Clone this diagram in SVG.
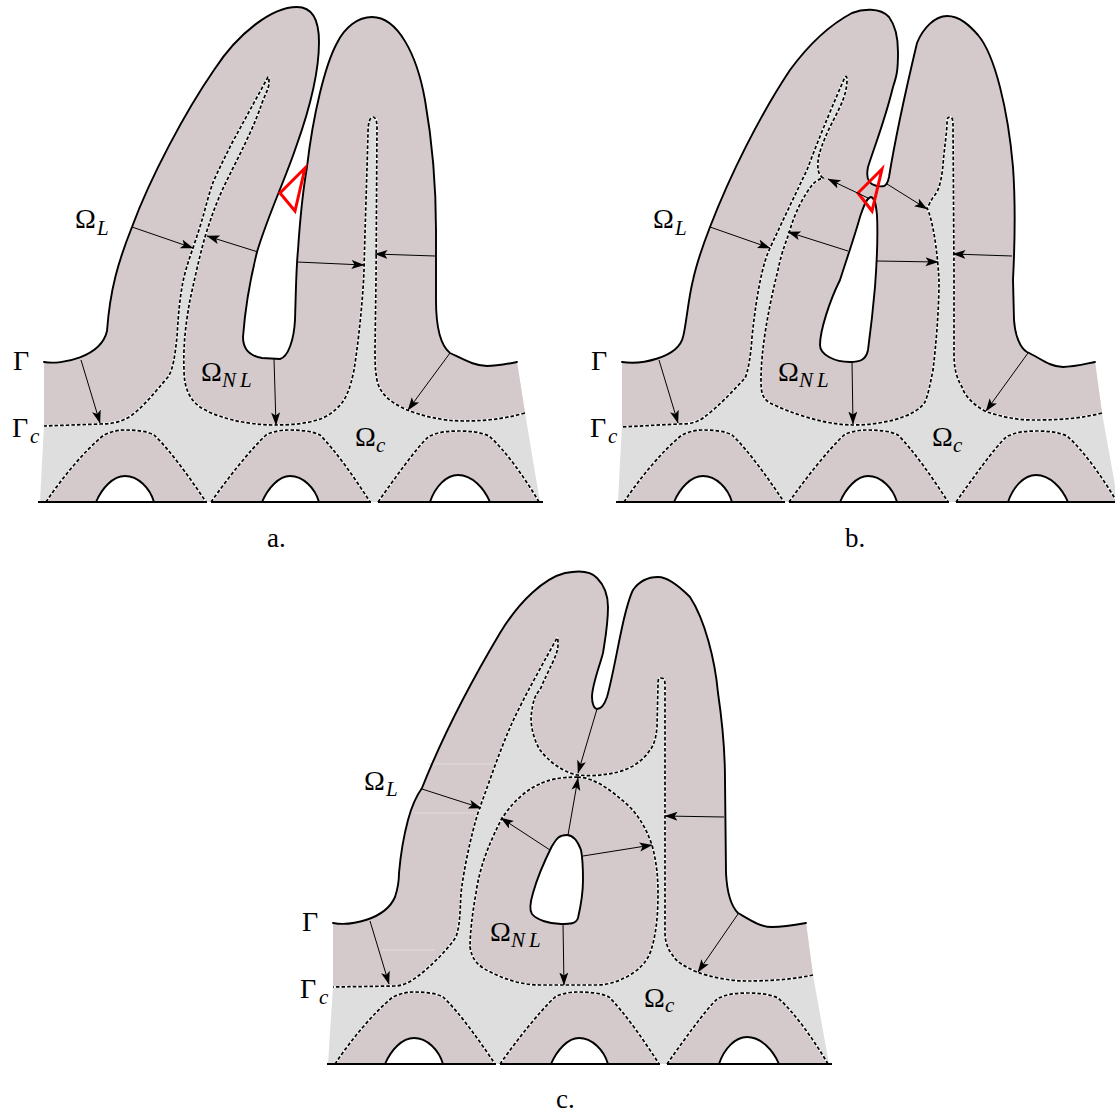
<svg xmlns="http://www.w3.org/2000/svg" xmlns:xlink="http://www.w3.org/1999/xlink" width="1115" height="1115" viewBox="0 0 1115 1115">
<style>
.grey{fill:#dedede;stroke:none}
.brown{fill:#d5cacb;stroke:none}
.out{fill:none;stroke:#000;stroke-width:1.9;stroke-linecap:round;stroke-linejoin:round}
.hole{fill:#fff;stroke:#000;stroke-width:1.9;stroke-linejoin:round}
.dw{fill:none;stroke:#fff;stroke-width:2.2}
.d{fill:none;stroke:#000;stroke-width:1.7;stroke-dasharray:3.6 2}
.base{fill:none;stroke:#000;stroke-width:2.2}
.arr{fill:none;stroke:#000;stroke-width:1;marker-end:url(#head)}
.red{fill:none;stroke:#f00;stroke-width:3;stroke-linejoin:miter}
.pale{fill:none;stroke:#e3dcdd;stroke-width:1}
text{font-family:"Liberation Serif","Times New Roman",serif;fill:#000}
.m{font-size:28px}
.s{font-size:21px;font-style:italic}
.nl{font-size:21px;font-style:italic;letter-spacing:4px}
.l{font-size:27px}
</style>
<defs>
<marker id="head" markerUnits="userSpaceOnUse" markerWidth="14" markerHeight="10" refX="12.5" refY="4.5" orient="auto" viewBox="0 0 14 10">
<path d="M13 4.5 L0 0 L3 4.5 L0 9 Z" fill="#000"/>
</marker>
<g id="teeth">
<path class="brown" d="M46 502 C62 478 85 450 104 435 C112 431 120 430 125 430 C135 430 147 431 154 435 C170 450 190 478 206 502 Z"/>
<path class="brown" d="M211 502 C228 478 250 450 266 435 C274 431 282 430 289 430 C300 430 312 431 320 435 C335 450 355 478 370 502 Z"/>
<path class="brown" d="M378 502 C395 478 415 450 428 437 C437 432 448 431 459 431 C470 431 480 432 489 436 C505 450 525 478 539 502 Z"/>
<path class="dw" d="M46 502 C62 478 85 450 104 435 C112 431 120 430 125 430 C135 430 147 431 154 435 C170 450 190 478 206 502"/>
<path class="dw" d="M211 502 C228 478 250 450 266 435 C274 431 282 430 289 430 C300 430 312 431 320 435 C335 450 355 478 370 502"/>
<path class="dw" d="M378 502 C395 478 415 450 428 437 C437 432 448 431 459 431 C470 431 480 432 489 436 C505 450 525 478 539 502"/>
<path class="d" d="M46 502 C62 478 85 450 104 435 C112 431 120 430 125 430 C135 430 147 431 154 435 C170 450 190 478 206 502"/>
<path class="d" d="M211 502 C228 478 250 450 266 435 C274 431 282 430 289 430 C300 430 312 431 320 435 C335 450 355 478 370 502"/>
<path class="d" d="M378 502 C395 478 415 450 428 437 C437 432 448 431 459 431 C470 431 480 432 489 436 C505 450 525 478 539 502"/>
<path class="hole" d="M96 502 C102 488 113 476 125 476 C138 476 150 488 154 502 Z"/>
<path class="hole" d="M262 502 C268 488 279 476 290 476 C303 476 315 488 319 502 Z"/>
<path class="hole" d="M430 502 C435 487 446 475 458 475 C472 475 484 488 490 502 Z"/>
<path class="base" d="M38 502 H207 M211 502 H371 M378 502 H543"/>
</g>
</defs>

<g id="panel-a">
<path class="grey" d="M44 362 C62 365 101 357 107 331 C110 290 118 262 132 227 C150 178 185 112 214 70 C238 33 272 7 297 7 C312 7 319 20 319 42 C319 80 305 122 296 147 C285 180 268 215 257 252 C250 280 245 310 243 337 C243 350 250 356 262 358 L280 359 C288 357 294 340 295 320 C296 290 296 270 298 250 C300 220 303 190 307 167 C313 115 325 65 337 43 C345 27 358 17 372 17 C398 17 417 55 425 100 C432 140 436 180 436 230 L436 300 C436 325 440 345 450 353 C465 360 475 366 487 366 C497 366 507 364 517 362 L525 413 L540 502 L40 502 L44 424 Z"/>
<path class="brown" d="M44 362 C62 365 101 357 107 331 C110 290 118 262 132 227 C150 178 185 112 214 70 C238 33 272 7 297 7 C312 7 319 20 319 42 C319 80 305 122 296 147 C285 180 268 215 257 252 C250 280 245 310 243 337 C243 350 250 356 262 358 L280 359 C288 357 294 340 295 320 C296 290 296 270 298 250 C300 220 303 190 307 167 C313 115 325 65 337 43 C345 27 358 17 372 17 C398 17 417 55 425 100 C432 140 436 180 436 230 L436 300 C436 325 440 345 450 353 C465 360 475 366 487 366 C497 366 507 364 517 362 L525 413 C500 420 480 421 464 421 C440 421 420 415 407 410 C392 403 380 395 377 380 C375 370 375 360 375 350 L376 280 L377 127 C377 120 375 117 373 117 C370 117 368 122 368 133 C367 170 365 230 364 270 C363 300 358 345 354 370 C350 390 345 402 335 410 C322 423 295 425 275 425 C245 425 215 417 200 407 C190 400 184 388 184 370 C183 345 186 322 190 300 C194 282 199 258 205 237 C209 224 213 212 218 200 C222 190 227 180 232 170 C238 158 244 146 250 133 C255 122 259 112 262 103 C265 95 269 88 269 83 C269 79 269 77 268 77 C262 88 256 99 250 110 C244 121 238 132 232 143 C226 155 220 167 214 180 C210 190 207 202 204 213 C201 224 197 236 193 248 C188 262 184 275 182 287 C179 305 178 320 177 337 C175 355 173 370 168 377 C155 392 145 405 132 415 C122 422 112 424 100 424 L44 426 Z"/>
<path class="dw" d="M525 413 C500 420 480 421 464 421 C440 421 420 415 407 410 C392 403 380 395 377 380 C375 370 375 360 375 350 L376 280 L377 127 C377 120 375 117 373 117 C370 117 368 122 368 133 C367 170 365 230 364 270 C363 300 358 345 354 370 C350 390 345 402 335 410 C322 423 295 425 275 425 C245 425 215 417 200 407 C190 400 184 388 184 370 C183 345 186 322 190 300 C194 282 199 258 205 237 C209 224 213 212 218 200 C222 190 227 180 232 170 C238 158 244 146 250 133 C255 122 259 112 262 103 C265 95 269 88 269 83 C269 79 269 77 268 77 C262 88 256 99 250 110 C244 121 238 132 232 143 C226 155 220 167 214 180 C210 190 207 202 204 213 C201 224 197 236 193 248 C188 262 184 275 182 287 C179 305 178 320 177 337 C175 355 173 370 168 377 C155 392 145 405 132 415 C122 422 112 424 100 424 L44 426"/>
<path class="d" d="M525 413 C500 420 480 421 464 421 C440 421 420 415 407 410 C392 403 380 395 377 380 C375 370 375 360 375 350 L376 280 L377 127 C377 120 375 117 373 117 C370 117 368 122 368 133 C367 170 365 230 364 270 C363 300 358 345 354 370 C350 390 345 402 335 410 C322 423 295 425 275 425 C245 425 215 417 200 407 C190 400 184 388 184 370 C183 345 186 322 190 300 C194 282 199 258 205 237 C209 224 213 212 218 200 C222 190 227 180 232 170 C238 158 244 146 250 133 C255 122 259 112 262 103 C265 95 269 88 269 83 C269 79 269 77 268 77 C262 88 256 99 250 110 C244 121 238 132 232 143 C226 155 220 167 214 180 C210 190 207 202 204 213 C201 224 197 236 193 248 C188 262 184 275 182 287 C179 305 178 320 177 337 C175 355 173 370 168 377 C155 392 145 405 132 415 C122 422 112 424 100 424 L44 426"/>
<use href="#teeth" xlink:href="#teeth"/>
<path class="out" d="M44 362 C62 365 101 357 107 331 C110 290 118 262 132 227 C150 178 185 112 214 70 C238 33 272 7 297 7 C312 7 319 20 319 42 C319 80 305 122 296 147 C285 180 268 215 257 252 C250 280 245 310 243 337 C243 350 250 356 262 358 L280 359 C288 357 294 340 295 320 C296 290 296 270 298 250 C300 220 303 190 307 167 C313 115 325 65 337 43 C345 27 358 17 372 17 C398 17 417 55 425 100 C432 140 436 180 436 230 L436 300 C436 325 440 345 450 353 C465 360 475 366 487 366 C497 366 507 364 517 362"/>
<path class="red" d="M305 168 L280 193 L295 211 Z"/>
<g id="connectors-a">
<path class="arr" d="M132 227 L193 248"/>
<path class="arr" d="M258 252 L207 236"/>
<path class="arr" d="M297 262 L364 265"/>
<path class="arr" d="M435 256 L375 254"/>
<path class="arr" d="M81 360 L100 423"/>
<path class="arr" d="M274 359 L276 425"/>
<path class="arr" d="M450 353 L408 410"/>
</g>
<text class="m" x="75" y="228">Ω</text><text class="s" x="97" y="235">L</text>
<text class="m" x="13" y="370">Γ</text>
<text class="m" x="12" y="437">Γ</text><text class="s" x="30" y="443">c</text>
<text class="m" x="201" y="381">Ω</text><text class="nl" x="222" y="387">NL</text>
<text class="m" x="355" y="446">Ω</text><text class="s" x="376" y="452">c</text>
<text class="l" x="267" y="547">a.</text>
</g>

<g id="panel-b">
<path class="grey" d="M622 362 C640 365 678 358 683 337 C686 327 688 300 693 280 C697 262 703 245 710 227 C730 175 760 115 790 70 C812 40 835 22 852 13 C862 9 880 7 889 17 C895 25 898 38 898 52 C898 70 897 75 893 87 C885 120 875 145 868 167 C867 172 867 178 869 181 C872 186 880 187 884 186 C887 185 888 182 889 177 C895 140 907 85 917 43 C923 28 935 16 947 16 C960 16 970 26 978 35 C995 55 1008 110 1013 167 C1015 195 1015 240 1013 280 L1014 320 C1015 335 1020 348 1027 352 C1040 358 1050 367 1063 367 C1073 367 1085 364 1095 362 L1102 413 L1118 502 L618 502 L622 424 Z"/>
<path class="brown" d="M622 362 C640 365 678 358 683 337 C686 327 688 300 693 280 C697 262 703 245 710 227 C730 175 760 115 790 70 C812 40 835 22 852 13 C862 9 880 7 889 17 C895 25 898 38 898 52 C898 70 897 75 893 87 C885 120 875 145 868 167 C867 172 867 178 869 181 C872 186 880 187 884 186 C887 185 888 182 889 177 C895 140 907 85 917 43 C923 28 935 16 947 16 C960 16 970 26 978 35 C995 55 1008 110 1013 167 C1015 195 1015 240 1013 280 L1014 320 C1015 335 1020 348 1027 352 C1040 358 1050 367 1063 367 C1073 367 1085 364 1095 362 L1102 413 C1075 420 1050 420 1033 420 C1015 420 1000 416 987 412 C975 406 965 397 962 387 C955 375 954 365 954 353 L954 270 L953 125 C953 119 952 117 950 117 C947 117 947 119 947 125 C946 140 944 150 943 165 C942 175 940 190 934 196 C931 200 929 205 927 208 C932 218 937 245 939 280 C939 310 936 345 933 370 C930 385 928 395 925 402 C915 418 880 425 853 425 C825 425 790 413 770 403 C762 398 761 392 761 380 C761 350 768 310 778 270 C782 250 787 240 790 230 C795 212 804 195 813 184 C817 180 820 179 823 178 C820 176 818 172 818 168 C817 160 820 150 825 138 C833 118 847 100 847 80 C847 76 846 76 845 77 C835 100 820 135 807 170 C795 195 783 220 770 248 C763 263 757 290 752 337 C751 355 748 372 745 378 C732 392 717 408 703 418 C695 424 685 424 678 424 L622 427 Z"/>
<path class="dw" d="M1102 413 C1075 420 1050 420 1033 420 C1015 420 1000 416 987 412 C975 406 965 397 962 387 C955 375 954 365 954 353 L954 270 L953 125 C953 119 952 117 950 117 C947 117 947 119 947 125 C946 140 944 150 943 165 C942 175 940 190 934 196 C931 200 929 205 927 208 C932 218 937 245 939 280 C939 310 936 345 933 370 C930 385 928 395 925 402 C915 418 880 425 853 425 C825 425 790 413 770 403 C762 398 761 392 761 380 C761 350 768 310 778 270 C782 250 787 240 790 230 C795 212 804 195 813 184 C817 180 820 179 823 178 C820 176 818 172 818 168 C817 160 820 150 825 138 C833 118 847 100 847 80 C847 76 846 76 845 77 C835 100 820 135 807 170 C795 195 783 220 770 248 C763 263 757 290 752 337 C751 355 748 372 745 378 C732 392 717 408 703 418 C695 424 685 424 678 424 L622 427"/>
<path class="d" d="M1102 413 C1075 420 1050 420 1033 420 C1015 420 1000 416 987 412 C975 406 965 397 962 387 C955 375 954 365 954 353 L954 270 L953 125 C953 119 952 117 950 117 C947 117 947 119 947 125 C946 140 944 150 943 165 C942 175 940 190 934 196 C931 200 929 205 927 208 C932 218 937 245 939 280 C939 310 936 345 933 370 C930 385 928 395 925 402 C915 418 880 425 853 425 C825 425 790 413 770 403 C762 398 761 392 761 380 C761 350 768 310 778 270 C782 250 787 240 790 230 C795 212 804 195 813 184 C817 180 820 179 823 178 C820 176 818 172 818 168 C817 160 820 150 825 138 C833 118 847 100 847 80 C847 76 846 76 845 77 C835 100 820 135 807 170 C795 195 783 220 770 248 C763 263 757 290 752 337 C751 355 748 372 745 378 C732 392 717 408 703 418 C695 424 685 424 678 424 L622 427"/>
<use href="#teeth" xlink:href="#teeth" x="578"/>
<path class="out" d="M622 362 C640 365 678 358 683 337 C686 327 688 300 693 280 C697 262 703 245 710 227 C730 175 760 115 790 70 C812 40 835 22 852 13 C862 9 880 7 889 17 C895 25 898 38 898 52 C898 70 897 75 893 87 C885 120 875 145 868 167 C867 172 867 178 869 181 C872 186 880 187 884 186 C887 185 888 182 889 177 C895 140 907 85 917 43 C923 28 935 16 947 16 C960 16 970 26 978 35 C995 55 1008 110 1013 167 C1015 195 1015 240 1013 280 L1014 320 C1015 335 1020 348 1027 352 C1040 358 1050 367 1063 367 C1073 367 1085 364 1095 362"/>
<path class="hole" d="M871 197 C875 198 876 205 877 215 C878 235 877 260 875 287 C873 310 870 335 868 350 C866 360 860 362 850 362 C835 362 820 355 820 345 C820 330 830 300 840 280 C848 255 855 235 860 217 C863 208 866 198 871 197 Z"/>
<path class="red" d="M882 169 L858 193 L872 211 Z"/>
<g id="connectors-b">
<path class="arr" d="M710 227 L770 248"/>
<path class="arr" d="M848 251 L788 232"/>
<path class="arr" d="M877 261 L938 262"/>
<path class="arr" d="M1012 256 L953 254"/>
<path class="arr" d="M887 184 L927 209"/>
<path class="arr" d="M868 198 L828 179"/>
<path class="arr" d="M659 360 L678 423"/>
<path class="arr" d="M852 361 L853 424"/>
<path class="arr" d="M1028 353 L986 411"/>
</g>
<text class="m" x="653" y="228">Ω</text><text class="s" x="675" y="235">L</text>
<text class="m" x="591" y="370">Γ</text>
<text class="m" x="590" y="437">Γ</text><text class="s" x="608" y="443">c</text>
<text class="m" x="778" y="381">Ω</text><text class="nl" x="799" y="387">NL</text>
<text class="m" x="932" y="446">Ω</text><text class="s" x="953" y="452">c</text>
<text class="l" x="845" y="547">b.</text>
</g>

<g id="panel-c">
<path class="grey" d="M333 923 C350 926 385 920 395 897 C399 885 399 880 399 873 C401 850 404 835 408 820 C412 805 417 795 422 788 C445 730 475 675 500 633 C520 600 545 578 565 573 C575 571 590 570 597 578 C605 586 608 595 608 607 C608 625 605 640 603 653 C600 665 592 685 592 697 C592 703 594 709 597 709 C602 709 605 703 607 697 C612 680 618 645 623 623 C626 610 629 598 633 590 C640 580 650 577 658 577 C668 577 680 587 690 597 C705 620 715 660 718 693 C722 720 725 745 725 780 L726 873 C727 893 732 907 738 913 C750 920 760 927 772 927 C783 927 795 925 806 923 L813 975 L829 1064 L328 1064 L333 986 Z"/>
<path class="brown" d="M333 923 C350 926 385 920 395 897 C399 885 399 880 399 873 C401 850 404 835 408 820 C412 805 417 795 422 788 C445 730 475 675 500 633 C520 600 545 578 565 573 C575 571 590 570 597 578 C605 586 608 595 608 607 C608 625 605 640 603 653 C600 665 592 685 592 697 C592 703 594 709 597 709 C602 709 605 703 607 697 C612 680 618 645 623 623 C626 610 629 598 633 590 C640 580 650 577 658 577 C668 577 680 587 690 597 C705 620 715 660 718 693 C722 720 725 745 725 780 L726 873 C727 893 732 907 738 913 C750 920 760 927 772 927 C783 927 795 925 806 923 L813 975 C790 980 765 981 747 981 C730 981 710 977 697 972 C685 967 677 962 674 957 C668 950 665 942 665 933 L665 685 C665 680 664 678 661 678 C658 678 658 680 658 685 L657 727 C656 738 654 745 650 750 C640 765 625 771 613 773 C600 776 588 776 577 775 C560 771 548 760 540 750 C534 740 531 728 531 717 C533 700 535 695 540 690 C548 670 558 655 558 645 C558 640 558 638 557 638 C545 660 525 695 512 723 C500 750 490 780 480 807 C475 820 465 860 461 893 C460 912 460 925 456 937 C447 950 435 962 422 973 C413 980 405 986 394 986 L333 987 Z"/>
<path class="brown" d="M578 777 C560 777 547 780 540 784 C525 790 510 805 501 820 C490 842 480 865 476 893 C472 915 470 935 470 947 C472 958 475 962 483 968 C500 978 520 985 540 985 L597 985 C610 985 622 980 633 973 C645 965 650 955 652 947 C657 930 658 910 658 893 C658 875 656 860 652 845 C645 825 635 810 622 800 C610 790 595 778 578 777 Z"/>
<path class="pale" d="M428 764 H495 M415 813 H480 M382 950 H435"/>
<path class="dw" d="M813 975 C790 980 765 981 747 981 C730 981 710 977 697 972 C685 967 677 962 674 957 C668 950 665 942 665 933 L665 685 C665 680 664 678 661 678 C658 678 658 680 658 685 L657 727 C656 738 654 745 650 750 C640 765 625 771 613 773 C600 776 588 776 577 775 C560 771 548 760 540 750 C534 740 531 728 531 717 C533 700 535 695 540 690 C548 670 558 655 558 645 C558 640 558 638 557 638 C545 660 525 695 512 723 C500 750 490 780 480 807 C475 820 465 860 461 893 C460 912 460 925 456 937 C447 950 435 962 422 973 C413 980 405 986 394 986 L333 987"/>
<path class="d" d="M813 975 C790 980 765 981 747 981 C730 981 710 977 697 972 C685 967 677 962 674 957 C668 950 665 942 665 933 L665 685 C665 680 664 678 661 678 C658 678 658 680 658 685 L657 727 C656 738 654 745 650 750 C640 765 625 771 613 773 C600 776 588 776 577 775 C560 771 548 760 540 750 C534 740 531 728 531 717 C533 700 535 695 540 690 C548 670 558 655 558 645 C558 640 558 638 557 638 C545 660 525 695 512 723 C500 750 490 780 480 807 C475 820 465 860 461 893 C460 912 460 925 456 937 C447 950 435 962 422 973 C413 980 405 986 394 986 L333 987"/>
<path class="dw" d="M578 777 C560 777 547 780 540 784 C525 790 510 805 501 820 C490 842 480 865 476 893 C472 915 470 935 470 947 C472 958 475 962 483 968 C500 978 520 985 540 985 L597 985 C610 985 622 980 633 973 C645 965 650 955 652 947 C657 930 658 910 658 893 C658 875 656 860 652 845 C645 825 635 810 622 800 C610 790 595 778 578 777 Z"/>
<path class="d" d="M578 777 C560 777 547 780 540 784 C525 790 510 805 501 820 C490 842 480 865 476 893 C472 915 470 935 470 947 C472 958 475 962 483 968 C500 978 520 985 540 985 L597 985 C610 985 622 980 633 973 C645 965 650 955 652 947 C657 930 658 910 658 893 C658 875 656 860 652 845 C645 825 635 810 622 800 C610 790 595 778 578 777 Z"/>
<use href="#teeth" xlink:href="#teeth" x="289" y="562"/>
<path class="out" d="M333 923 C350 926 385 920 395 897 C399 885 399 880 399 873 C401 850 404 835 408 820 C412 805 417 795 422 788 C445 730 475 675 500 633 C520 600 545 578 565 573 C575 571 590 570 597 578 C605 586 608 595 608 607 C608 625 605 640 603 653 C600 665 592 685 592 697 C592 703 594 709 597 709 C602 709 605 703 607 697 C612 680 618 645 623 623 C626 610 629 598 633 590 C640 580 650 577 658 577 C668 577 680 587 690 597 C705 620 715 660 718 693 C722 720 725 745 725 780 L726 873 C727 893 732 907 738 913 C750 920 760 927 772 927 C783 927 795 925 806 923"/>
<path class="hole" d="M567 835 C558 835 556 840 552 846 C545 860 538 875 533 893 C530 903 529 910 532 914 C537 920 550 924 561 924 C570 924 576 924 578 918 C581 905 583 893 583 880 C583 865 582 855 581 850 C578 842 574 835 567 835 Z"/>
<g id="connectors-c">
<path class="arr" d="M597 709 L578 773"/>
<path class="arr" d="M568 835 L578 778"/>
<path class="arr" d="M550 850 L501 818"/>
<path class="arr" d="M583 856 L652 845"/>
<path class="arr" d="M422 789 L481 808"/>
<path class="arr" d="M724 817 L665 816"/>
<path class="arr" d="M370 921 L389 984"/>
<path class="arr" d="M563 923 L564 985"/>
<path class="arr" d="M738 914 L698 972"/>
</g>
<text class="m" x="364" y="790">Ω</text><text class="s" x="386" y="796">L</text>
<text class="m" x="302" y="931">Γ</text>
<text class="m" x="300" y="998">Γ</text><text class="s" x="319" y="1004">c</text>
<text class="m" x="490" y="941">Ω</text><text class="nl" x="511" y="947">NL</text>
<text class="m" x="644" y="1007">Ω</text><text class="s" x="665" y="1012">c</text>
<text class="l" x="556" y="1108">c.</text>
</g>
</svg>
